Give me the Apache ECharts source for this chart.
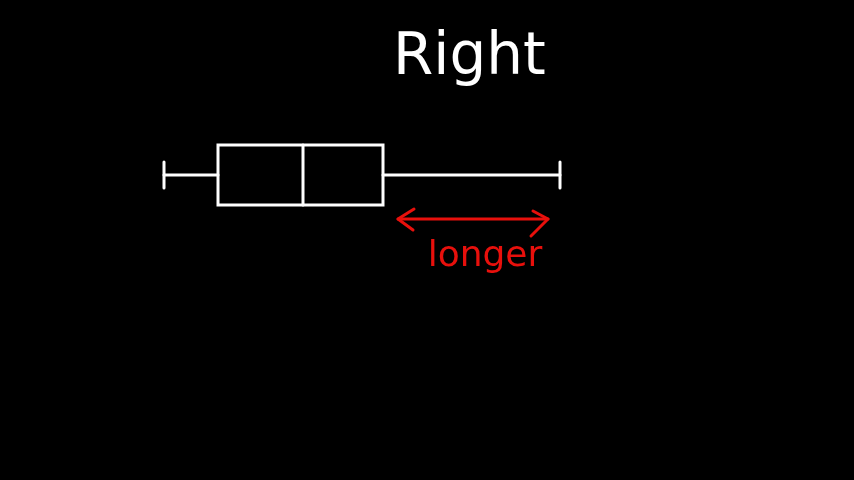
<!DOCTYPE html>
<html>
<head>
<meta charset="utf-8">
<script src="https://cdn.jsdelivr.net/npm/echarts@6/dist/echarts.min.js"></script>
<style>
  html, body { margin: 0; padding: 0; background: #000; }
  #chart { width: 854px; height: 480px; }
</style>
</head>
<body>
<div id="chart"></div>
<script>
// five-number summary
var categories = ['A'];
var boxValues = [[164, 218, 303, 383, 560]]; // min, Q1, median, Q3, max
// red arrow showing the longer right whisker
var arrowFrom = [398];
var arrowTo = [548];
var arrowLabel = ['longer'];

var chart = echarts.init(document.getElementById('chart'));

function renderBox(params, api) {
  var mn = api.coord([api.value(0), 0]);
  var q1 = api.coord([api.value(1), 0]);
  var md = api.coord([api.value(2), 0]);
  var q3 = api.coord([api.value(3), 0]);
  var mx = api.coord([api.value(4), 0]);
  var band = api.size([0, 1])[1];
  var half = band * 0.25;
  var cap = 13;
  var cy = mn[1];
  var white = { stroke: '#fff', lineWidth: 3, fill: null, lineCap: 'round' };
  var children = [
    { type: 'rect', shape: { x: q1[0], y: cy - half, width: q3[0] - q1[0], height: half * 2 }, style: white },
    { type: 'line', shape: { x1: md[0], y1: cy - half, x2: md[0], y2: cy + half }, style: white },
    { type: 'line', shape: { x1: mn[0], y1: cy, x2: q1[0], y2: cy }, style: white },
    { type: 'line', shape: { x1: q3[0], y1: cy, x2: mx[0], y2: cy }, style: white },
    { type: 'line', shape: { x1: mn[0], y1: cy - cap, x2: mn[0], y2: cy + cap }, style: white },
    { type: 'line', shape: { x1: mx[0], y1: cy - cap, x2: mx[0], y2: cy + cap }, style: white }
  ];

  // arrow under the right whisker
  var a = api.coord([arrowFrom[0], 0])[0];
  var b = api.coord([arrowTo[0], 0])[0];
  var ay = cy + half + 14;
  var red = { stroke: '#e8100c', lineWidth: 3, fill: null, lineCap: 'round', lineJoin: 'round' };
  children.push(
    { type: 'line', shape: { x1: a, y1: ay, x2: b, y2: ay }, style: red },
    { type: 'polyline', shape: { points: [[a + 16, ay - 10], [a, ay], [a + 15, ay + 11]] }, style: red },
    { type: 'polyline', shape: { points: [[b - 15, ay - 8], [b, ay], [b - 17, ay + 17]] }, style: red },
    {
      type: 'text',
      style: {
        x: (a + b) / 2 + 12, y: ay + 20,
        text: arrowLabel[0],
        fill: '#e8100c',
        font: '36px "DejaVu Sans"',
        align: 'center', verticalAlign: 'top'
      }
    }
  );
  return { type: 'group', children: children };
}

chart.setOption({
  backgroundColor: '#000',
  animation: false,
  title: {
    text: 'Right',
    left: 388,
    top: 25,
    textStyle: { color: '#fff', fontSize: 58, fontWeight: 'normal', fontFamily: 'DejaVu Sans' }
  },
  grid: { left: 0, right: 0, top: 115, height: 120 },
  xAxis: { type: 'value', min: 0, max: 854, show: false },
  yAxis: { type: 'category', data: categories, show: false },
  series: [{
    type: 'custom',
    renderItem: renderBox,
    encode: { x: [0, 1, 2, 3, 4], y: 5 },
    data: boxValues.map(function (d, i) { return d.concat([i]); })
  }]
});
</script>
</body>
</html>
